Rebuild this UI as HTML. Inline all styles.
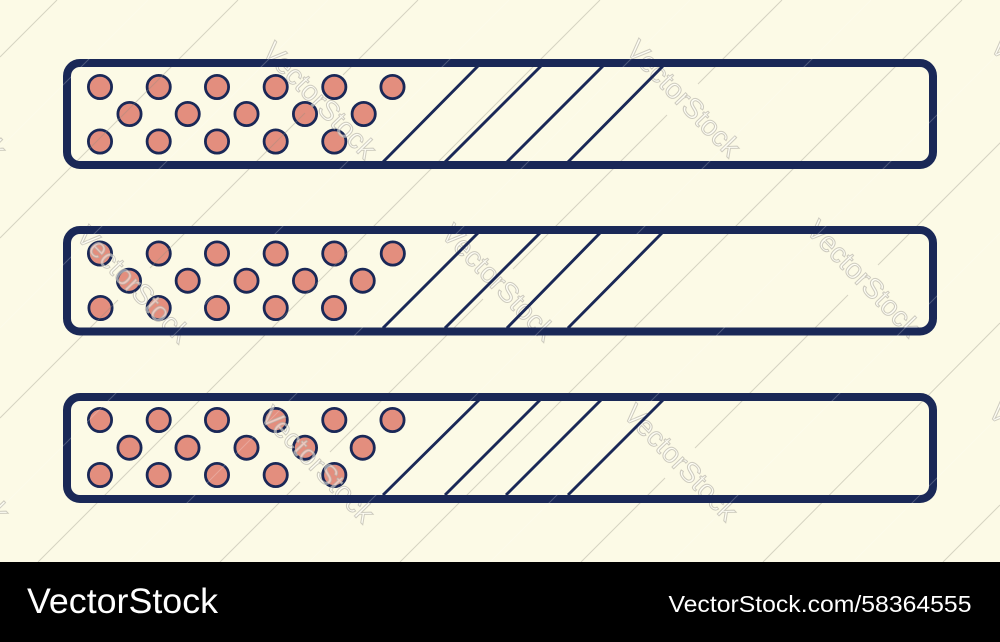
<!DOCTYPE html>
<html><head><meta charset="utf-8"><style>
html,body{margin:0;padding:0;background:#fcfae6}
svg{display:block}
text{font-family:"Liberation Sans",sans-serif}
</style></head><body>
<svg width="1000" height="642" viewBox="0 0 1000 642" xmlns="http://www.w3.org/2000/svg">
<rect width="1000" height="642" fill="#fcfae6"/>
<g fill="#e38e7e" stroke="#1a2857" stroke-width="2.800">
<circle cx="100" cy="87" r="11.600"/><circle cx="158.700" cy="87" r="11.600"/><circle cx="217" cy="87" r="11.600"/><circle cx="275.700" cy="87" r="11.600"/><circle cx="334.300" cy="87" r="11.600"/><circle cx="392.500" cy="87" r="11.600"/>
<circle cx="129.500" cy="114" r="11.600"/><circle cx="187.700" cy="114" r="11.600"/><circle cx="246.500" cy="114" r="11.600"/><circle cx="305" cy="114" r="11.600"/><circle cx="363.700" cy="114" r="11.600"/>
<circle cx="100" cy="141.500" r="11.600"/><circle cx="158.700" cy="141.500" r="11.600"/><circle cx="217" cy="141.500" r="11.600"/><circle cx="275.700" cy="141.500" r="11.600"/><circle cx="334.300" cy="141.500" r="11.600"/>
<circle cx="100" cy="253.500" r="11.600"/><circle cx="158.700" cy="253.500" r="11.600"/><circle cx="217" cy="253.500" r="11.600"/><circle cx="275.700" cy="253.500" r="11.600"/><circle cx="334.300" cy="253.500" r="11.600"/><circle cx="392.800" cy="253.500" r="11.600"/>
<circle cx="129" cy="280.700" r="11.600"/><circle cx="187.700" cy="280.700" r="11.600"/><circle cx="246.500" cy="280.700" r="11.600"/><circle cx="305" cy="280.700" r="11.600"/><circle cx="362.700" cy="280.700" r="11.600"/>
<circle cx="100.500" cy="308" r="11.600"/><circle cx="158.700" cy="308" r="11.600"/><circle cx="217" cy="308" r="11.600"/><circle cx="275.700" cy="308" r="11.600"/><circle cx="334" cy="308" r="11.600"/>
<circle cx="100" cy="420" r="11.600"/><circle cx="158.700" cy="420" r="11.600"/><circle cx="217" cy="420" r="11.600"/><circle cx="275.700" cy="420" r="11.600"/><circle cx="334.300" cy="420" r="11.600"/><circle cx="392.500" cy="420" r="11.600"/>
<circle cx="129.500" cy="447.700" r="11.600"/><circle cx="187.500" cy="447.700" r="11.600"/><circle cx="246.500" cy="447.700" r="11.600"/><circle cx="305" cy="447.700" r="11.600"/><circle cx="362.700" cy="447.700" r="11.600"/>
<circle cx="100" cy="475" r="11.600"/><circle cx="158.700" cy="475" r="11.600"/><circle cx="217" cy="475" r="11.600"/><circle cx="275.700" cy="475" r="11.600"/><circle cx="334.300" cy="475" r="11.600"/>
</g>
<g fill="none" stroke="#8f8c80" stroke-opacity=".36" stroke-width="1">
<path d="M57 0L0 57"/>
<path d="M238 0L0 238"/>
<path d="M418 0L343 75M305 113L150 268M118 300L0 418"/>
<path d="M600 0L38 562"/>
<path d="M782 0L698 84M667 115L513 269M483 299L330 452M300 482L220 562"/>
<path d="M962 0L400 562"/>
<path d="M1143 0L878 265M848 295L695 448M665 478L581 562"/>
<path d="M1000 323L763 562"/>
<path d="M1000 505L943 562"/>
</g>
<g font-size="28" text-anchor="middle" fill="#ffffff" fill-opacity=".5" stroke="#b4b1a6" stroke-opacity=".65" stroke-width="1">
<text transform="translate(320 100) rotate(46)" y="10">VectorStock</text>
<text transform="translate(684 98) rotate(46)" y="10">VectorStock</text>
<text transform="translate(134 284) rotate(46)" y="10">VectorStock</text>
<text transform="translate(499 282) rotate(46)" y="10">VectorStock</text>
<text transform="translate(864 278) rotate(46)" y="10">VectorStock</text>
<text transform="translate(318 464) rotate(46)" y="10">VectorStock</text>
<text transform="translate(681 462) rotate(46)" y="10">VectorStock</text>
<text transform="translate(-50 100) rotate(46)" y="10">VectorStock</text>
<text transform="translate(-47 463) rotate(46)" y="10">VectorStock</text>
<text transform="translate(1048 95) rotate(46)" y="10">VectorStock</text>
<text transform="translate(1046 460) rotate(46)" y="10">VectorStock</text>
</g>
<g fill="none" stroke="#1a2857">
<rect x="67" y="63" width="866" height="102" rx="13" stroke-width="8"/>
<rect x="67" y="230" width="866" height="101.500" rx="13" stroke-width="8"/>
<rect x="67" y="397" width="866" height="102" rx="13" stroke-width="8"/>
<g stroke-width="2.900">
<path d="M383 162L478 66M445 162L541 66M507 162L603 66M568 162L663 66"/>
<path d="M383 328L478 233M445 328L540 233M507 328L600 233M568 328L662 233"/>
<path d="M383 495L479 400M445 495L540 400M506 495L601 400M568 495L663 400"/>
</g></g>
<g fill="none" stroke="#ffffff" stroke-opacity=".22" stroke-width="1">
<path d="M148 0L0 148M328 0L0 328M509 0L0 509M690 0L128 562M871 0L309 562M1052 0L490 562M1000 233L671 562M1000 415L853 562"/>
</g>
<rect x="0" y="562" width="1000" height="80" fill="#000"/>
<text x="27" y="613" font-size="35" fill="#fff" textLength="191" lengthAdjust="spacingAndGlyphs">VectorStock</text>
<text x="668.500" y="612" font-size="23" fill="#fff" textLength="303" lengthAdjust="spacingAndGlyphs">VectorStock.com/58364555</text>
</svg>
</body></html>
